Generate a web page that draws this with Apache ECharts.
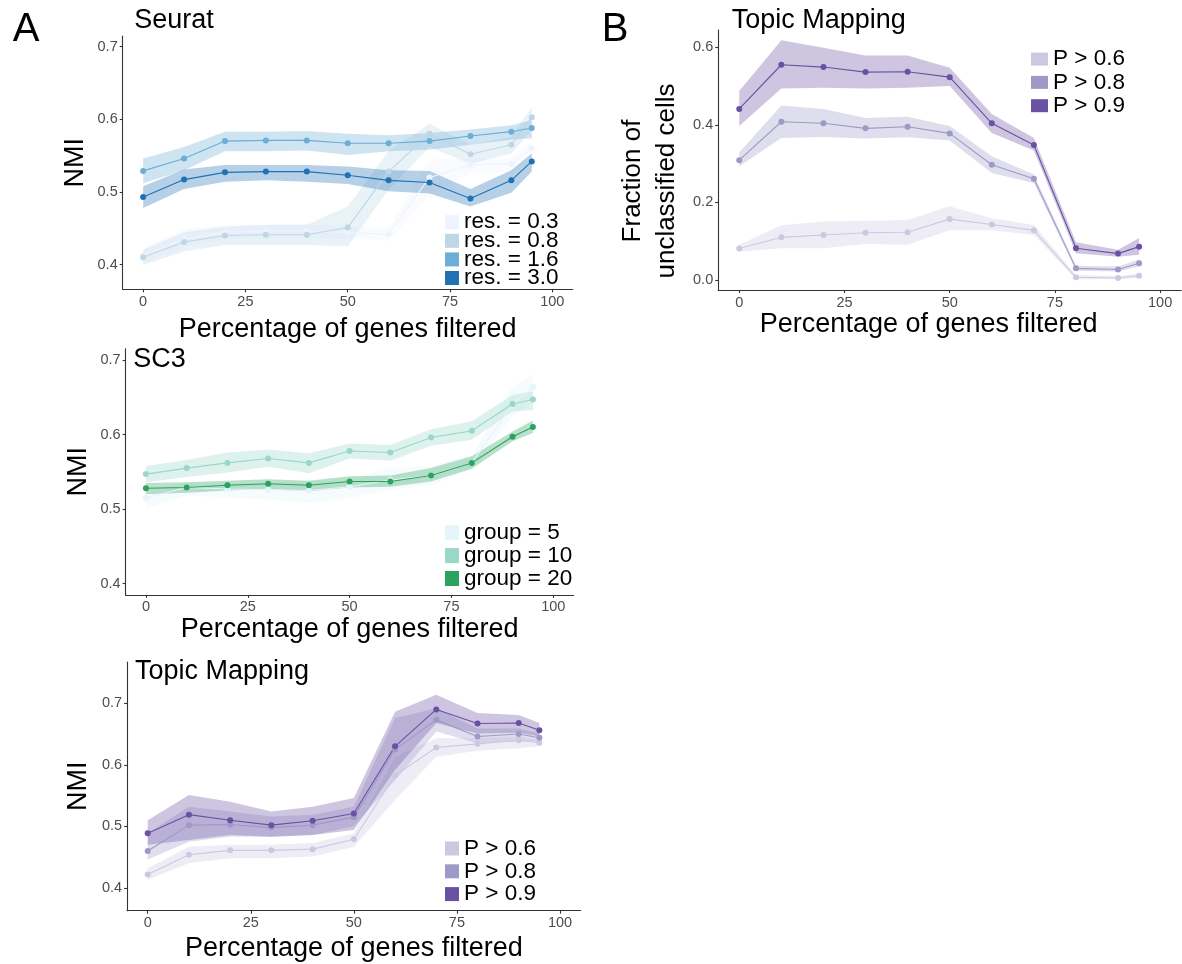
<!DOCTYPE html>
<html>
<head>
<meta charset="utf-8">
<script src="https://cdn.jsdelivr.net/npm/echarts@6/dist/echarts.min.js"></script>
<style>
html,body{margin:0;padding:0;background:#fff;}
#chart{width:1182px;height:964px;}
</style>
</head>
<body>
<div id="chart"></div>
<script>
// ---------- data ----------
const pct = [0, 10, 20, 30, 40, 50, 60, 70, 80, 90, 95];
const xTicks = [0, 25, 50, 75, 100];
const nmiTicks = [0.4, 0.5, 0.6, 0.7];
const fracTicks = [0.0, 0.2, 0.4, 0.6];

// Seurat (NMI)
const seuratNames = ['res. = 0.3', 'res. = 0.8', 'res. = 1.6', 'res. = 3.0'];
const res03    = [0.413, 0.435, 0.445, 0.446, 0.446, 0.444, 0.442, 0.520, 0.537, 0.539, 0.560];
const res03_lo = [0.402, 0.425, 0.436, 0.436, 0.436, 0.436, 0.433, 0.495, 0.526, 0.526, 0.551];
const res03_hi = [0.423, 0.449, 0.455, 0.455, 0.455, 0.452, 0.450, 0.545, 0.546, 0.546, 0.569];
const res08    = [0.410, 0.431, 0.440, 0.441, 0.441, 0.451, 0.528, 0.580, 0.552, 0.565, 0.603];
const res08_lo = [0.3995, 0.418, 0.427, 0.427, 0.427, 0.425, 0.503, 0.562, 0.539, 0.553, 0.585];
const res08_hi = [0.420, 0.445, 0.452, 0.455, 0.455, 0.480, 0.556, 0.594, 0.565, 0.576, 0.617];
const res16    = [0.529, 0.546, 0.570, 0.571, 0.571, 0.567, 0.567, 0.570, 0.577, 0.583, 0.588];
const res16_lo = [0.512, 0.530, 0.556, 0.556, 0.557, 0.551, 0.556, 0.558, 0.565, 0.572, 0.574];
const res16_hi = [0.546, 0.562, 0.583, 0.583, 0.584, 0.580, 0.578, 0.581, 0.586, 0.592, 0.599];
const res30    = [0.493, 0.517, 0.527, 0.528, 0.528, 0.523, 0.516, 0.513, 0.491, 0.516, 0.542];
const res30_lo = [0.478, 0.504, 0.514, 0.516, 0.514, 0.511, 0.501, 0.498, 0.480, 0.499, 0.528];
const res30_hi = [0.508, 0.531, 0.537, 0.537, 0.537, 0.535, 0.530, 0.529, 0.504, 0.530, 0.553];

// SC3 (NMI)
const sc3Names = ['group = 5', 'group = 10', 'group = 20'];
const g5     = [0.515, 0.529, 0.527, 0.526, 0.525, 0.530, 0.539, 0.545, 0.562, 0.640, 0.664];
const g5_lo  = [0.501, 0.519, 0.515, 0.513, 0.508, 0.515, 0.526, 0.532, 0.553, 0.624, 0.647];
const g5_hi  = [0.524, 0.536, 0.535, 0.535, 0.537, 0.539, 0.555, 0.558, 0.573, 0.664, 0.682];
const g10    = [0.547, 0.555, 0.562, 0.568, 0.562, 0.578, 0.576, 0.596, 0.605, 0.641, 0.647];
const g10_lo = [0.536, 0.543, 0.549, 0.557, 0.548, 0.568, 0.565, 0.585, 0.593, 0.631, 0.633];
const g10_hi = [0.558, 0.566, 0.576, 0.580, 0.575, 0.588, 0.586, 0.607, 0.618, 0.653, 0.658];
const g20    = [0.528, 0.529, 0.532, 0.534, 0.532, 0.537, 0.537, 0.545, 0.562, 0.597, 0.610];
const g20_lo = [0.520, 0.522, 0.525, 0.527, 0.524, 0.529, 0.530, 0.537, 0.554, 0.591, 0.602];
const g20_hi = [0.535, 0.536, 0.538, 0.540, 0.538, 0.544, 0.545, 0.555, 0.571, 0.604, 0.619];

// Topic Mapping (NMI)
const pNames = ['P > 0.6', 'P > 0.8', 'P > 0.9'];
const p06    = [0.422, 0.454, 0.461, 0.461, 0.463, 0.479, 0.583, 0.628, 0.634, 0.640, 0.636];
const p06_lo = [0.413, 0.440, 0.448, 0.448, 0.451, 0.467, 0.543, 0.613, 0.623, 0.627, 0.630];
const p06_hi = [0.432, 0.467, 0.470, 0.470, 0.473, 0.489, 0.613, 0.643, 0.643, 0.646, 0.640];
const p08    = [0.460, 0.502, 0.503, 0.498, 0.502, 0.515, 0.625, 0.673, 0.646, 0.650, 0.644];
const p08_lo = [0.446, 0.475, 0.483, 0.483, 0.486, 0.500, 0.575, 0.654, 0.635, 0.638, 0.638];
const p08_hi = [0.489, 0.532, 0.524, 0.516, 0.519, 0.532, 0.676, 0.692, 0.659, 0.659, 0.651];
const p09    = [0.489, 0.519, 0.510, 0.502, 0.509, 0.521, 0.630, 0.690, 0.667, 0.668, 0.656];
const p09_lo = [0.470, 0.478, 0.486, 0.483, 0.486, 0.494, 0.592, 0.668, 0.651, 0.652, 0.646];
const p09_hi = [0.510, 0.551, 0.540, 0.524, 0.532, 0.546, 0.686, 0.714, 0.684, 0.681, 0.668];

// Topic Mapping (fraction of unclassified cells)
const f06    = [0.081, 0.110, 0.116, 0.122, 0.123, 0.157, 0.143, 0.128, 0.007, 0.005, 0.011];
const f06_lo = [0.073, 0.082, 0.082, 0.093, 0.091, 0.128, 0.128, 0.116, 0.002, 0.002, 0.006];
const f06_hi = [0.091, 0.141, 0.151, 0.153, 0.155, 0.190, 0.159, 0.142, 0.013, 0.010, 0.017];
const f08    = [0.309, 0.408, 0.404, 0.391, 0.395, 0.378, 0.297, 0.261, 0.030, 0.027, 0.043];
const f08_lo = [0.293, 0.366, 0.369, 0.365, 0.368, 0.360, 0.276, 0.250, 0.024, 0.022, 0.035];
const f08_hi = [0.329, 0.450, 0.441, 0.418, 0.421, 0.397, 0.319, 0.272, 0.037, 0.035, 0.053];
const f09    = [0.441, 0.555, 0.549, 0.536, 0.537, 0.523, 0.404, 0.348, 0.082, 0.068, 0.086];
const f09_lo = [0.397, 0.494, 0.496, 0.494, 0.496, 0.500, 0.379, 0.334, 0.069, 0.060, 0.065];
const f09_hi = [0.487, 0.618, 0.599, 0.579, 0.579, 0.547, 0.428, 0.366, 0.097, 0.078, 0.108];

// ---------- styling ----------
const blues = ['#EFF3FF', '#BDD7E7', '#6BAED6', '#2171B5'];
const bugn = ['#E5F5F9', '#99D8C9', '#2CA25F'];
const purples = ['#CBC9E2', '#9E9AC8', '#6A51A3'];
const FONT = 'Liberation Sans, Arial, Helvetica, sans-serif';
const RIBBON_ALPHA = 0.33;

function rgba(hex, a) {
  const n = parseInt(hex.slice(1), 16);
  return 'rgba(' + ((n >> 16) & 255) + ',' + ((n >> 8) & 255) + ',' + (n & 255) + ',' + a + ')';
}

function band(g, lo, hi, color) {
  return {
    type: 'custom', xAxisIndex: g, yAxisIndex: g, silent: true, z: 1, clip: true,
    data: pct.map((x, i) => [x, lo[i], hi[i]]),
    encode: { x: 0, y: [1, 2] },
    renderItem: function (params, api) {
      if (params.dataIndex !== 0) return null;
      const pts = [];
      for (let i = 0; i < pct.length; i++) pts.push(api.coord([pct[i], hi[i]]));
      for (let i = pct.length - 1; i >= 0; i--) pts.push(api.coord([pct[i], lo[i]]));
      return { type: 'polygon', shape: { points: pts }, style: { fill: rgba(color, RIBBON_ALPHA) } };
    }
  };
}

function line(g, name, vals, color) {
  return {
    type: 'line', name: name, xAxisIndex: g, yAxisIndex: g, z: 3,
    data: pct.map((x, i) => [x, vals[i]]),
    symbol: 'circle', symbolSize: 6, showSymbol: true,
    lineStyle: { color: color, width: 1.1 },
    itemStyle: { color: color },
    emphasis: { disabled: true }, silent: true
  };
}

// x tick labels placed through the axis scale (used for the Seurat panel)
function xTickLabels(g, ymin) {
  return {
    type: 'custom', xAxisIndex: g, yAxisIndex: g, silent: true, z: 20, clip: false,
    data: xTicks.map(v => [v, ymin]),
    encode: { x: 0, y: 1 },
    renderItem: function (params, api) {
      const p = api.coord([api.value(0), api.value(1)]);
      return {
        type: 'text', x: p[0], y: p[1] + 5, z2: 100,
        style: { text: String(api.value(0)), fill: '#4d4d4d', font: '14.5px ' + FONT,
                 align: 'center', verticalAlign: 'top', textAlign: 'center', textVerticalAlign: 'top' }
      };
    }
  };
}

const grids = [
  { left: 122.7, top: 36,    width: 450,   height: 253.3, ymin: 0.366,   ymax: 0.7147, ticks: nmiTicks,  yname: 'NMI', ygap: 34, xgap: 27,   ownLabels: true },
  { left: 125.6, top: 348.8, width: 448,   height: 246.1, ymin: 0.385,   ymax: 0.715,  ticks: nmiTicks,  yname: 'NMI', ygap: 34, xgap: 21,   ownLabels: false },
  { left: 127.1, top: 662,   width: 453.5, height: 248.7, ymin: 0.363,   ymax: 0.767,  ticks: nmiTicks,  yname: 'NMI', ygap: 35, xgap: 24.5, ownLabels: false },
  { left: 718.2, top: 30,    width: 463,   height: 260,   ymin: -0.0258, ymax: 0.6446, ticks: fracTicks, yname: '',    ygap: 34, xgap: 21.5, ownLabels: false }
];

const axisLineStyle = { color: '#333333', width: 1.1 };

const option = {
  animation: false,
  textStyle: { fontFamily: FONT },
  grid: grids.map(g => ({ left: g.left, top: g.top, width: g.width, height: g.height, containLabel: false })),
  xAxis: grids.map((g, i) => ({
    type: 'value', gridIndex: i, min: -5, max: 105, z: 10,
    axisLine: { show: true, onZero: false, lineStyle: axisLineStyle },
    axisTick: { show: true, length: 3, interval: 0, customValues: xTicks, lineStyle: axisLineStyle },
    axisLabel: { show: !g.ownLabels, customValues: xTicks, interval: 0, hideOverlap: false, showMinLabel: true, showMaxLabel: true,
                 color: '#4d4d4d', fontSize: 14.5, margin: 5, fontFamily: FONT },
    splitLine: { show: false },
    name: 'Percentage of genes filtered', nameLocation: 'middle', nameGap: g.xgap, nameMoveOverlap: false,
    nameTextStyle: { fontSize: 27, color: '#000', fontFamily: FONT, padding: i === 3 ? [0, 42, 0, 0] : 0 }
  })),
  yAxis: grids.map((g, i) => ({
    type: 'value', gridIndex: i, min: g.ymin, max: g.ymax, z: 10,
    axisLine: { show: true, onZero: false, lineStyle: axisLineStyle },
    axisTick: { show: true, length: 3, interval: 0, customValues: g.ticks, lineStyle: axisLineStyle },
    axisLabel: { customValues: g.ticks, interval: 0, hideOverlap: false, showMinLabel: true, showMaxLabel: true,
                 color: '#4d4d4d', fontSize: 14.5, margin: 5, fontFamily: FONT,
                 formatter: v => v.toFixed(1) },
    splitLine: { show: false },
    name: g.yname, nameLocation: 'middle', nameGap: g.ygap, nameRotate: 90, nameMoveOverlap: false,
    nameTextStyle: { fontSize: 27, color: '#000', fontFamily: FONT }
  })),
  legend: [
    { left: 445, top: 210.7, names: seuratNames, colors: blues, iw: 14, ih: 14, gap: -4.4 },
    { left: 445, top: 521.2, names: sc3Names, colors: bugn, iw: 14, ih: 15, gap: -0.1 },
    { left: 445, top: 837, names: pNames, colors: purples, iw: 14, ih: 14, gap: -0.2 },
    { left: 1031, top: 47.6, names: pNames, colors: purples, iw: 17, ih: 13, gap: 0.3 }
  ].map(l => ({
    left: l.left, top: l.top, orient: 'vertical', padding: 0, itemGap: l.gap,
    itemWidth: l.iw, itemHeight: l.ih, icon: 'rect', selectedMode: false,
    textStyle: { fontSize: 22.5, color: '#000', fontFamily: FONT },
    itemStyle: { borderWidth: 0 },
    data: l.names.map((n, k) => ({ name: n, icon: 'rect', itemStyle: { color: l.colors[k], borderWidth: 0 } }))
  })),
  series: [
    // ribbons first (drawn beneath lines)
    band(0, res03_lo, res03_hi, blues[0]),
    band(0, res08_lo, res08_hi, blues[1]),
    band(0, res16_lo, res16_hi, blues[2]),
    band(0, res30_lo, res30_hi, blues[3]),
    band(1, g5_lo, g5_hi, bugn[0]),
    band(1, g10_lo, g10_hi, bugn[1]),
    band(1, g20_lo, g20_hi, bugn[2]),
    band(2, p06_lo, p06_hi, purples[0]),
    band(2, p08_lo, p08_hi, purples[1]),
    band(2, p09_lo, p09_hi, purples[2]),
    band(3, f06_lo, f06_hi, purples[0]),
    band(3, f08_lo, f08_hi, purples[1]),
    band(3, f09_lo, f09_hi, purples[2]),
    // lines + points
    line(0, seuratNames[0], res03, blues[0]),
    line(0, seuratNames[1], res08, blues[1]),
    line(0, seuratNames[2], res16, blues[2]),
    line(0, seuratNames[3], res30, blues[3]),
    line(1, sc3Names[0], g5, bugn[0]),
    line(1, sc3Names[1], g10, bugn[1]),
    line(1, sc3Names[2], g20, bugn[2]),
    line(2, pNames[0], p06, purples[0]),
    line(2, pNames[1], p08, purples[1]),
    line(2, pNames[2], p09, purples[2]),
    line(3, pNames[0], f06, purples[0]),
    line(3, pNames[1], f08, purples[1]),
    line(3, pNames[2], f09, purples[2]),
    // Seurat x tick labels
    xTickLabels(0, grids[0].ymin)
  ],
  graphic: [
    { type: 'text', left: 12.7, top: 10, style: { text: 'A', font: '40px ' + FONT, fill: '#000' } },
    { type: 'text', left: 601.7, top: 10, style: { text: 'B', font: '40px ' + FONT, fill: '#000' } },
    { type: 'text', x: 134.3, y: 20.8, style: { text: 'Seurat', font: '27px ' + FONT, fill: '#000', textVerticalAlign: 'middle' } },
    { type: 'text', x: 133.3, y: 359.2, style: { text: 'SC3', font: '27px ' + FONT, fill: '#000', textVerticalAlign: 'middle' } },
    { type: 'text', x: 135, y: 671.7, style: { text: 'Topic Mapping', font: '27px ' + FONT, fill: '#000', textVerticalAlign: 'middle' } },
    { type: 'text', x: 731.7, y: 20.8, style: { text: 'Topic Mapping', font: '27px ' + FONT, fill: '#000', textVerticalAlign: 'middle' } },
    { type: 'text', x: 650, y: 181, rotation: Math.PI / 2,
      style: { text: 'Fraction of\nunclassified cells', font: '26px ' + FONT, fill: '#000',
               textAlign: 'center', textVerticalAlign: 'middle', lineHeight: 34 } }
  ]
};

const chart = echarts.init(document.getElementById('chart'), null, { renderer: 'canvas' });
chart.setOption(option);
</script>
</body>
</html>
